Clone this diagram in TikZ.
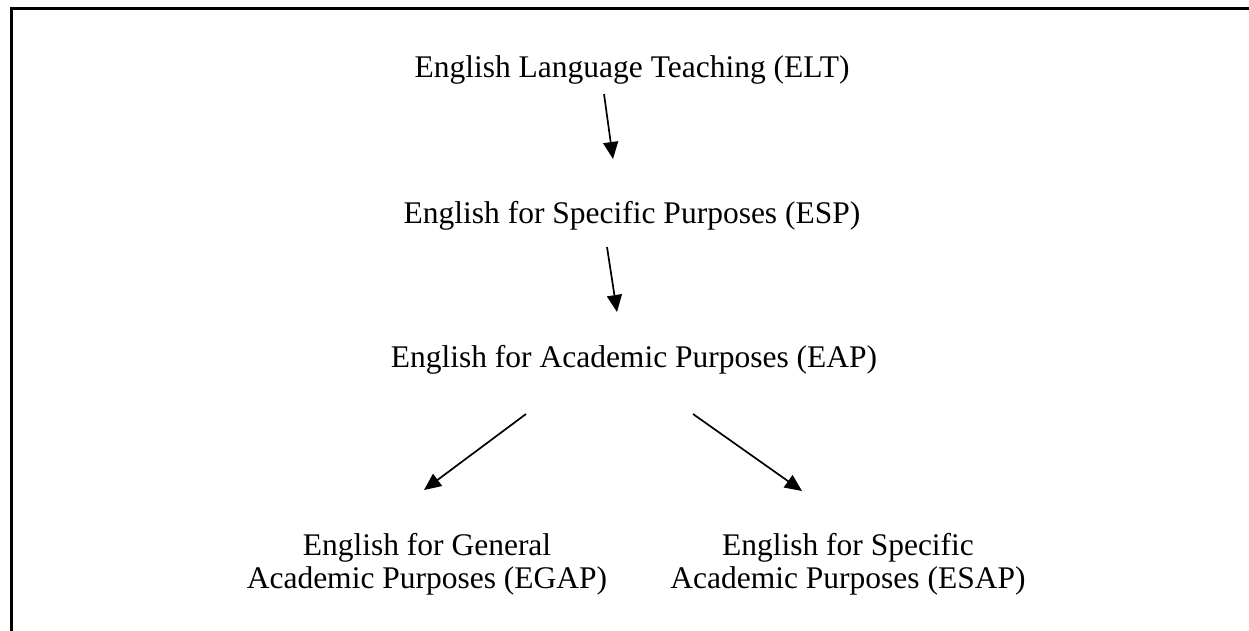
\documentclass[tikz,border=0pt]{standalone}
\usepackage{fontspec}
\setmainfont{Liberation Serif}
\usetikzlibrary{arrows.meta}
\begin{document}
\begin{tikzpicture}[x=1pt,y=-1pt,
  lbl/.style={inner sep=0pt, anchor=base, font=\fontsize{31.5}{33}\selectfont, align=center},
  conn/.style={line width=1.7pt, -{Triangle[length=17pt,width=15pt]}},
  frame/.style={line width=3pt}]
\useasboundingbox (0,0) rectangle (1249,631);
\draw[frame] (11,640) -- (11,9) -- (1260,9);
\node[lbl] (elt) at (632,78) {English Language Teaching (ELT)};
\node[lbl] (esp) at (632,223) {English for Specific Purposes (ESP)};
\node[lbl] (eap) at (634,367) {English for Academic Purposes (EAP)};
\node[lbl] (egap) at (427,588) {English for General\\Academic Purposes (EGAP)};
\node[lbl] (esap) at (848,588) {English for Specific\\Academic Purposes (ESAP)};
\coordinate (a1s) at (604,94);  \coordinate (a1e) at (613,159);
\coordinate (a2s) at (607,247); \coordinate (a2e) at (617,312);
\coordinate (a3s) at (526,414); \coordinate (a3e) at (424,490);
\coordinate (a4s) at (693,414); \coordinate (a4e) at (802,491);
\draw[conn] (a1s) -- (a1e);
\draw[conn] (a2s) -- (a2e);
\draw[conn] (a3s) -- (a3e);
\draw[conn] (a4s) -- (a4e);
\end{tikzpicture}
\end{document}
